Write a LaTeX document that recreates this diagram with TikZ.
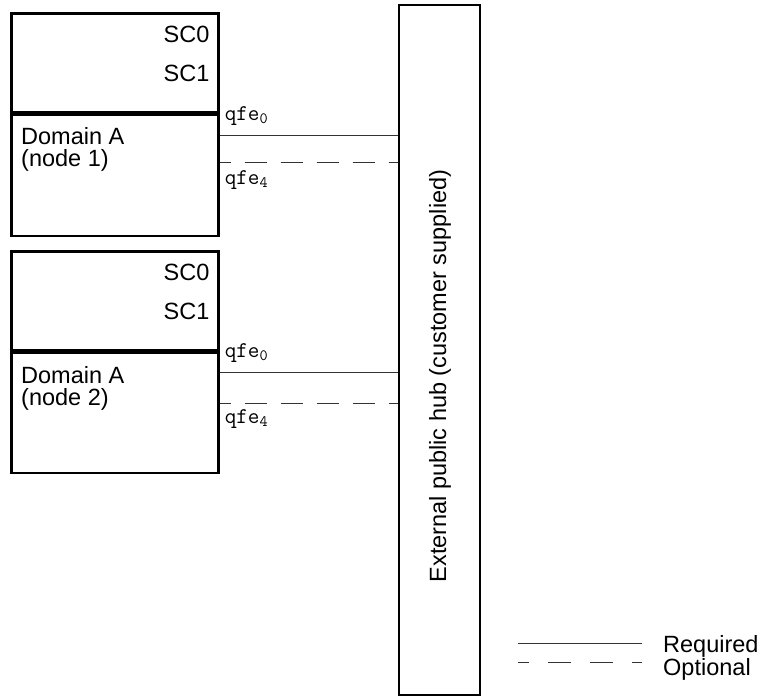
\documentclass[tikz,border=0pt]{standalone}
\usepackage{fontspec}
\setmainfont{Liberation Sans}
\usetikzlibrary{
  positioning,
  calc
}

\begin{document}
\begin{tikzpicture}[
  x=1pt, y=-1pt,
  font=\fontsize{23.5}{22}\selectfont,
  boxpart/.style={
    rectangle,
    draw=black,
    line width=2.6pt,
    minimum width=207pt,
    inner sep=0pt
  },
  hubbox/.style={
    rectangle,
    draw=black,
    line width=2.2pt,
    minimum width=81pt,
    minimum height=690pt,
    inner sep=0pt
  },
  lbl/.style={
    inner sep=0pt,
    align=left
  },
  port/.style={
    inner sep=0pt,
    font=\ttfamily\fontsize{22.5}{22.5}\selectfont
  },
  req/.style={
    line width=0.9pt,
    draw=black!80
  },
  opt/.style={
    line width=0.9pt,
    draw=black!80,
    dash pattern=on 22pt off 14pt,
    dash phase=11pt
  },
  optkey/.style={
    opt,
    dash pattern=on 23pt off 19pt,
    dash phase=13pt
  }
]

\useasboundingbox (0,0) rectangle (761,696);

% Domain A, node 1
\node[boxpart, minimum height=99pt, anchor=north west] (sc1) at (10,12) {};
\node[boxpart, minimum height=121pt, below=0pt of sc1] (dom1) {};
\node[lbl, anchor=east] (sc1a) at ([xshift=-10pt,yshift=-22pt]sc1.north east) {SC0};
\node[lbl, anchor=east] (sc1b) at ([xshift=-10pt,yshift=-61pt]sc1.north east) {SC1};
\node[lbl, anchor=north west] (dom1txt) at ([xshift=11pt,yshift=-14pt]dom1.north west) {Domain A\\(node 1)};

% Domain A, node 2
\node[boxpart, minimum height=99pt, below=13pt of dom1] (sc2) {};
\node[boxpart, minimum height=120pt, below=0pt of sc2] (dom2) {};
\node[lbl, anchor=east] (sc2a) at ([xshift=-10pt,yshift=-22pt]sc2.north east) {SC0};
\node[lbl, anchor=east] (sc2b) at ([xshift=-10pt,yshift=-61pt]sc2.north east) {SC1};
\node[lbl, anchor=north west] (dom2txt) at ([xshift=11pt,yshift=-14pt]dom2.north west) {Domain A\\(node 2)};

% Hub
\node[hubbox, anchor=north west] (hub) at (398,4) {};
\node[lbl, rotate=90] (hubtxt) at (440,376) {External public hub (customer supplied)};

% Links
\coordinate (q0a) at ([yshift=-22pt]dom1.north east);
\coordinate (q4a) at ([yshift=-49pt]dom1.north east);
\coordinate (q0b) at ([yshift=-21pt]dom2.north east);
\coordinate (q4b) at ([yshift=-52pt]dom2.north east);

\draw[req] (q0a) -- (hub.west |- q0a);
\draw[opt] (q4a) -- (hub.west |- q4a);
\draw[req] (q0b) -- (hub.west |- q0b);
\draw[opt] (q4b) -- (hub.west |- q4b);

\node[port, anchor=base west] (p0a) at ([xshift=5pt,yshift=15pt]q0a) {qfe\textsubscript{0}};
\node[port, anchor=base west] (p4a) at ([xshift=5pt,yshift=-22pt]q4a) {qfe\textsubscript{4}};
\node[port, anchor=base west] (p0b) at ([xshift=5pt,yshift=15pt]q0b) {qfe\textsubscript{0}};
\node[port, anchor=base west] (p4b) at ([xshift=5pt,yshift=-20pt]q4b) {qfe\textsubscript{4}};

% Legend
\node[lbl, anchor=base west] (reqlab) at (663,652) {Required};
\node[lbl, anchor=base west] (optlab) at (663,675) {Optional};
\draw[req] ([xshift=-21pt,yshift=2pt]reqlab.west) -- ++(-124pt,0);
\draw[optkey] ([xshift=-21pt,yshift=6pt]optlab.west) -- ++(-124pt,0);

\end{tikzpicture}
\end{document}
